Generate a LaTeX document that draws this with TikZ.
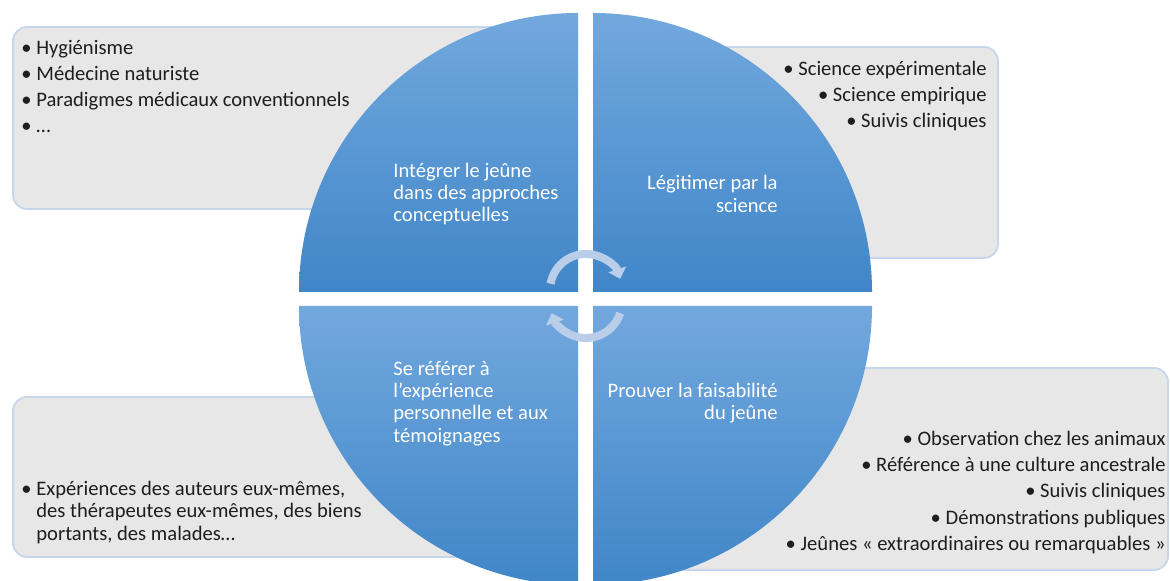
\documentclass[tikz,border=0pt]{standalone}
\usepackage{fontspec}
\setmainfont{Carlito}
\usetikzlibrary{positioning, arrows.meta}

\definecolor{quadtop}{RGB}{114,168,222}
\definecolor{quadbot}{RGB}{64,134,200}
\definecolor{boxfill}{RGB}{231,231,231}
\definecolor{boxline}{RGB}{198,215,235}
\definecolor{arrowc}{RGB}{186,206,234}
\definecolor{itemc}{RGB}{30,30,30}

\newcommand\bul{\makebox[7.5pt][l]{\textbullet}}

\begin{document}
\begin{tikzpicture}[x=0.5pt, y=0.5pt, >={Triangle[width=9pt,length=5pt]},
    quad/.style={top color=quadtop, bottom color=quadbot},
    infobox/.style={draw=boxline, line width=0.9pt, fill=boxfill, rounded corners=7pt},
    qtext/.style={text=white, inner sep=0pt, font=\fontsize{10.3}{11.2}\selectfont},
    itemtext/.style={text=itemc, inner sep=0pt, font=\fontsize{10.3}{13.1}\selectfont},
    cycarrow/.style={->, draw=arrowc, line width=4pt}]
  \useasboundingbox[fill=white] (0,0) rectangle (1170,-581);

  % grey boxes behind the circle
  \draw[infobox] (13,-27) rectangle (560,-209);
  \draw[infobox] (610,-47) rectangle (998,-258);
  \draw[infobox] (13,-397) rectangle (560,-557);
  \draw[infobox] (610,-368) rectangle (1168,-570);

  % the four quarters
  \shade[quad] (578,-292) -- (299,-292) arc[start angle=180, end angle=90, radius=279] -- cycle;
  \shade[quad] (593,-292) -- (593,-13) arc[start angle=90, end angle=0, radius=279] -- cycle;
  \shade[quad] (578,-306) -- (299,-306) arc[start angle=180, end angle=270, radius=279] -- cycle;
  \shade[quad] (593,-306) -- (872,-306) arc[start angle=0, end angle=-90, radius=279] -- cycle;

  \node[qtext, anchor=west, align=left] (integrer) at (393,-194)
    {Intégrer le jeûne\\dans des approches\\conceptuelles};
  \node[qtext, anchor=east, align=right] (legitimer) at (778,-194)
    {Légitimer par la\\science};
  \node[qtext, anchor=west, align=left] (referer) at (393,-403.5)
    {Se référer à\\l’expérience\\personnelle et aux\\témoignages};
  \node[qtext, anchor=east, align=right] (prouver) at (778,-403)
    {Prouver la faisabilité\\du jeûne};

  % cycle arrows
  \coordinate (hub) at (586,-299);
  \draw[cycarrow] (hub) ++(0,9) ++(170:36) arc[start angle=170, end angle=18, radius=36];
  \draw[cycarrow] (hub) ++(0,-3) ++(-18:36) arc[start angle=-18, end angle=-162, radius=36];

  % lists
  \node[itemtext, anchor=west, align=left] (approches) at (21,-86.5)
    {\bul Hygiénisme\\\bul Médecine naturiste\\\bul Paradigmes médicaux conventionnels\\\bul …};
  \node[itemtext, anchor=east, align=right] (science) at (987,-96)
    {\textbullet{} Science expérimentale\\\textbullet{} Science empirique\\\textbullet{} Suivis cliniques};
  \node[itemtext, anchor=west, align=left, font=\fontsize{10.3}{11.3}\selectfont] (temoins) at (21,-512.5)
    {\bul Expériences des auteurs eux-mêmes,\\\hspace*{7.5pt}des thérapeutes eux-mêmes, des biens\\\hspace*{7.5pt}portants, des malades…};
  \node[itemtext, anchor=east, align=right] (preuves) at (1166,-492.5)
    {\textbullet{} Observation chez les animaux\\\textbullet{} Référence à une culture ancestrale\\\textbullet{} Suivis cliniques\\\textbullet{} Démonstrations publiques\\\textbullet{} Jeûnes «~extraordinaires ou remarquables~»};
\end{tikzpicture}
\end{document}
